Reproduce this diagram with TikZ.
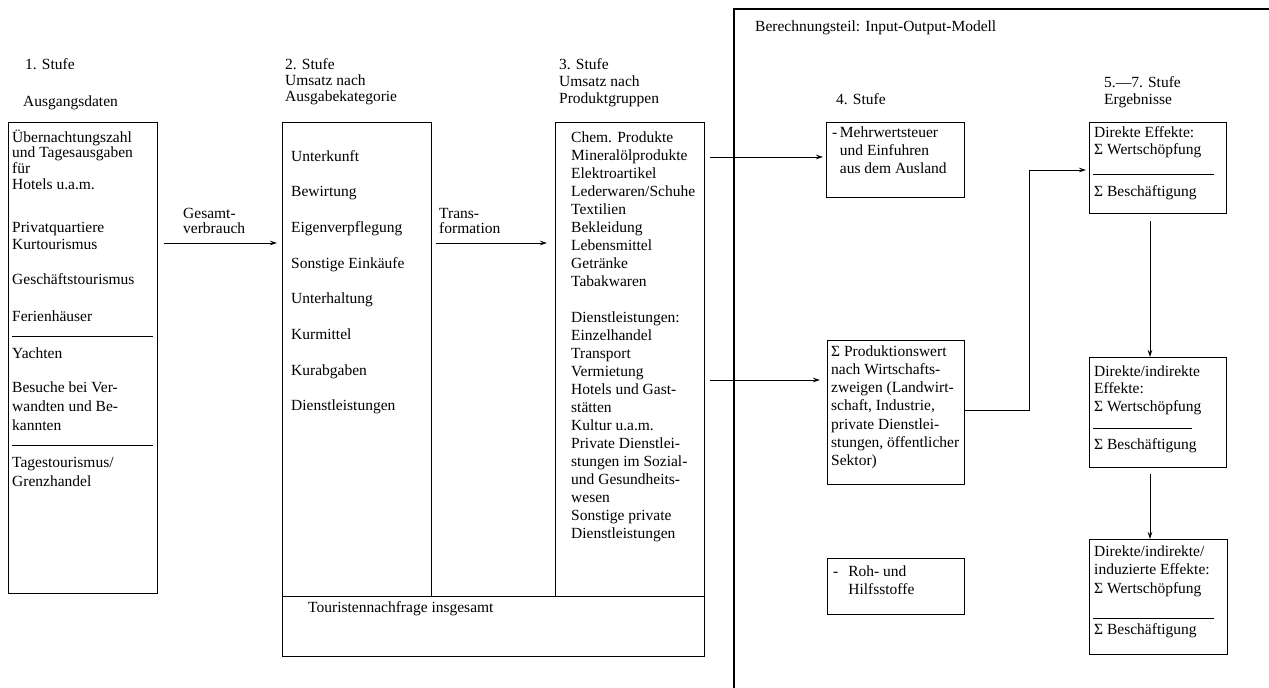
\documentclass[tikz,border=0pt]{standalone}
\usepackage{fontspec}
\setmainfont{Liberation Serif}
\usetikzlibrary{arrows.meta,calc}
\newcommand\blocktext[2]{\vtop{\baselineskip=#1pt\lineskiplimit=-50pt\lineskip=0pt\halign{##\hfil\cr#2\crcr}}}
\begin{document}
\begin{tikzpicture}[x=1pt,y=-1pt,
  font=\fontsize{15.5pt}{18pt}\selectfont,
  box/.style={draw, line width=1pt, inner sep=0pt, anchor=north west},
  txt/.style={anchor=base west, inner sep=0pt},
  arr/.style={-{Stealth[length=7pt,width=4.5pt]}, line width=0.9pt},
  sepline/.style={line width=1pt},
  frame/.style={line width=1.8pt}]
\useasboundingbox (0,0) rectangle (1269,688);

% boxes
\node[box, minimum width=149pt, minimum height=471pt] (b1) at (8,122) {};
\node[box, minimum width=149pt, minimum height=474pt] (b2) at (282,122) {};
\node[box, minimum width=149pt, minimum height=474pt] (b3) at (555,122) {};
\node[box, minimum width=422pt, minimum height=60pt] (bt) at (282,596) {};
\node[box, minimum width=138pt, minimum height=75pt] (b4a) at (826,122) {};
\node[box, minimum width=137pt, minimum height=144pt] (b4b) at (827,340) {};
\node[box, minimum width=137pt, minimum height=56pt] (b4c) at (827,558) {};
\node[box, minimum width=137pt, minimum height=91pt] (b5) at (1089,122) {};
\node[box, minimum width=137pt, minimum height=110pt] (b6) at (1089,357) {};
\node[box, minimum width=138pt, minimum height=115pt] (b7) at (1089,539) {};

% frame of the calculation part
\draw[frame] (1269,9) -- (734,9) -- (734,688);

% separators
\draw[sepline] (12,336) -- (153,336);
\draw[sepline] (12,445) -- (153,445);
\draw[sepline] (1093,174) -- (1214,174);
\draw[sepline] (1093,428) -- (1192,428);
\draw[sepline] (1093,618) -- (1214,618);

% stage 1
\node[txt] (h1a) at (25,69) {1. Stufe};
\node[txt] (h1b) at (23,106) {Ausgangsdaten};
\node[txt] (t1a) at (12,142) {\blocktext{15.7}{Übernachtungszahl\cr und Tagesausgaben\cr für\cr Hotels u.a.m.}};
\node[txt] (t1b) at (12,232) {\blocktext{17}{Privatquartiere\cr Kurtourismus}};
\node[txt] (t1c) at (12,284) {Geschäftstourismus};
\node[txt] (t1d) at (12,321) {Ferienhäuser};
\node[txt] (t1e) at (12,358) {Yachten};
\node[txt] (t1f) at (12,392) {\blocktext{19}{Besuche bei Ver-\cr wandten und Be-\cr kannten}};
\node[txt] (t1g) at (12,467) {\blocktext{19}{Tagestourismus/\cr Grenzhandel}};

\node[txt] (l12) at (183,218) {\blocktext{15.5}{Gesamt-\cr verbrauch}};

% stage 2
\node[txt] (h2) at (285,69) {\blocktext{16}{2. Stufe\cr Umsatz nach\cr Ausgabekategorie}};
\node[txt] (t2) at (291,161) {\blocktext{35.7}{Unterkunft\cr Bewirtung\cr Eigenverpflegung\cr Sonstige Einkäufe\cr Unterhaltung\cr Kurmittel\cr Kurabgaben\cr Dienstleistungen}};

\node[txt] (l23) at (439,218) {\blocktext{15.5}{Trans-\cr formation}};

% stage 3
\node[txt] (h3) at (559,69) {\blocktext{17}{3. Stufe\cr Umsatz nach\cr Produktgruppen}};
\node[txt] (t3) at (571,142) {\blocktext{18}{Chem. Produkte\cr Mineralölprodukte\cr Elektroartikel\cr Lederwaren/Schuhe\cr Textilien\cr Bekleidung\cr Lebensmittel\cr Getränke\cr Tabakwaren\cr\cr Dienstleistungen:\cr Einzelhandel\cr Transport\cr Vermietung\cr Hotels und Gast-\cr stätten\cr Kultur u.a.m.\cr Private Dienstlei-\cr stungen im Sozial-\cr und Gesundheits-\cr wesen\cr Sonstige private\cr Dienstleistungen}};

\node[txt] (tt) at (308,612) {Touristennachfrage insgesamt};

% calculation part
\node[txt] (hc) at (755,31) {Berechnungsteil: Input-Output-Modell};
\node[txt] (h4) at (836,104) {4. Stufe};
\node[txt] (t4a) at (832,137) {\blocktext{18}{-\,Mehrwertsteuer\cr \hphantom{-\,}und Einfuhren\cr \hphantom{-\,}aus dem Ausland}};
\node[txt] (t4b) at (831,356) {\blocktext{18.3}{Σ Produktionswert\cr nach Wirtschafts-\cr zweigen (Landwirt-\cr schaft, Industrie,\cr private Dienstlei-\cr stungen, öffentlicher\cr Sektor)}};
\node[txt] (t4c) at (833,576) {\blocktext{18}{-\hspace{10pt}Roh- und\cr \hphantom{-}\hspace{10pt}Hilfsstoffe}};

\node[txt] (h5) at (1104,87) {\blocktext{17}{5.—7. Stufe\cr Ergebnisse}};
\node[txt] (t5a) at (1094,137) {\blocktext{17}{Direkte Effekte:\cr Σ Wertschöpfung}};
\node[txt] (t5b) at (1094,196) {Σ Beschäftigung};
\node[txt] (t6a) at (1094,376) {\blocktext{17.5}{Direkte/indirekte\cr Effekte:\cr Σ Wertschöpfung}};
\node[txt] (t6b) at (1094,449) {Σ Beschäftigung};
\node[txt] (t7a) at (1094,556) {\blocktext{18.5}{Direkte/indirekte/\cr induzierte Effekte:\cr Σ Wertschöpfung}};
\node[txt] (t7b) at (1094,634) {Σ Beschäftigung};

% connectors
\coordinate (yA) at (0,243);
\coordinate (yB) at (0,157);
\coordinate (yC) at (0,380);
\coordinate (yD) at (0,410);
\coordinate (kn) at (1029,170);
\coordinate (xv) at (1150,0);
\draw[arr, shorten <=6pt, shorten >=5pt] (b1.east |- yA) -- (b2.west |- yA);
\draw[arr, shorten <=4pt, shorten >=8pt] (b2.east |- yA) -- (b3.west |- yA);
\draw[arr, shorten <=5pt, shorten >=3pt] (b3.east |- yB) -- (b4a.west |- yB);
\draw[arr, shorten <=5pt, shorten >=7pt] (b3.east |- yC) -- (b4b.west |- yC);
\draw[arr, shorten >=3pt] (b4b.east |- yD) -| (kn) -- (b5.west |- kn);
\draw[arr, shorten <=7pt] (b5.south -| xv) -- (b6.north -| xv);
\draw[arr, shorten <=6pt] (b6.south -| xv) -- (b7.north -| xv);
\end{tikzpicture}
\end{document}
